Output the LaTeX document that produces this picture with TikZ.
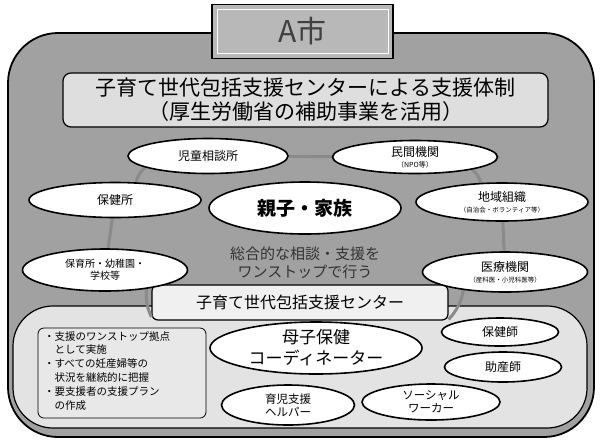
\documentclass[tikz,border=0pt]{standalone}
\usepackage{fontspec}
\setmainfont{Noto Sans CJK JP}
\usetikzlibrary{shapes.geometric}
\definecolor{framegray}{gray}{0.63}
\definecolor{headgray}{gray}{0.87}
\definecolor{lowgray}{gray}{0.89}
\definecolor{listgray}{gray}{0.91}
\definecolor{centergray}{gray}{0.94}
\definecolor{linkgray}{gray}{0.54}
\definecolor{titlegray}{gray}{0.72}
\pgfdeclarelayer{bg}
\pgfdeclarelayer{mid}
\pgfsetlayers{bg,mid,main}
\tikzset{
  oval/.style={ellipse, draw=black, line width=1.6pt, fill=white, inner sep=0pt, align=center, font=\fontsize{12}{13}\selectfont},
  panel/.style={draw=black, line width=1.2pt, inner sep=0pt},
  link/.style={draw=linkgray, line width=3pt},
  subtxt/.style={font=\fontsize{7}{8}\selectfont}
}
\begin{document}
\begin{tikzpicture}[x=1pt,y=-1pt]
\useasboundingbox (0,0) rectangle (604,440);
\begin{pgfonlayer}{bg}
  \node[panel, fill=framegray, rounded corners=50pt, line width=1.8pt, minimum width=586pt, minimum height=404pt] (frame) at (301,235) {};
  \node[panel, fill=headgray, rounded corners=8pt, minimum width=485pt, minimum height=54pt, align=center, font=\fontsize{21}{24}\selectfont] (head) at (305.5,100) {子育て世代包括支援センターによる支援体制\\（厚生労働省の補助事業を活用）};
  \node[panel, fill=lowgray, rounded corners=40pt, minimum width=574pt, minimum height=122pt] (lower) at (300,367) {};
  \node[panel, fill=centergray, rounded corners=6pt, minimum width=296pt, minimum height=35pt, font=\fontsize{16}{18}\selectfont] (center) at (300,302.5) {子育て世代包括支援センター};
\end{pgfonlayer}
% title box
\node[panel, fill=titlegray, line width=1.4pt, minimum width=181pt, minimum height=54pt] (title) at (302.5,31.5) {};
\node[draw=white, line width=1pt, minimum width=171pt, minimum height=44pt, inner sep=0pt] (titlein) at (302.5,31.5) {};
\node[font=\fontsize{30}{32}\selectfont, text=black!75] (titletxt) at (302.5,31.5) {A市};
% outer ring of ellipses
\node[oval, minimum width=160pt, minimum height=35pt] (jido) at (208,156) {児童相談所};
\node[oval, minimum width=165pt, minimum height=33pt] (minkan) at (415,157) {民間機関\\[-2pt]{\fontsize{7}{8}\selectfont（NPO等）}};
\node[oval, minimum width=172pt, minimum height=35pt] (hoken) at (115,200) {保健所};
\node[oval, minimum width=192pt, minimum height=52pt, font=\fontsize{19}{20}\selectfont\bfseries] (oyako) at (305,208) {親子・家族};
\node[oval, minimum width=172pt, minimum height=38pt] (chiiki) at (502,202) {地域組織\\[-2pt]{\fontsize{6.5}{7}\selectfont（自治会・ボランティア等）}};
\node[oval, minimum width=165pt, minimum height=42pt, font=\fontsize{10}{12}\selectfont] (hoiku) at (105,270) {保育所・幼稚園・\\学校等};
\node[oval, minimum width=165pt, minimum height=40pt] (iryo) at (505,272) {医療機関\\[-2pt]{\fontsize{6.5}{7}\selectfont（産科医・小児科医等）}};
\node[align=center, font=\fontsize{15}{18}\selectfont, text=black!80] (sogo) at (305,263) {総合的な相談・支援を\\ワンストップで行う};
% lower panel contents
\node[panel, fill=listgray, line width=0.8pt, rounded corners=6pt, minimum width=168pt, minimum height=90pt] (list) at (122,373) {};
\node[anchor=north west, align=left, font=\fontsize{10.5}{13.8}\selectfont, inner sep=0pt] (listtxt) at (44,331) {・支援のワンストップ拠点\\　として実施\\・すべての妊産婦等の\\　状況を継続的に把握\\・要支援者の支援プラン\\　の作成};
\node[oval, minimum width=212pt, minimum height=52pt, font=\fontsize{17}{21}\selectfont] (boshi) at (316,348) {母子保健\\コーディネーター};
\node[oval, minimum width=117pt, minimum height=28pt] (hokenshi) at (500,332) {保健師};
\node[oval, minimum width=117pt, minimum height=30pt] (josan) at (503,367) {助産師};
\node[oval, minimum width=133pt, minimum height=40pt, font=\fontsize{11.5}{13}\selectfont] (ikuji) at (288,405) {育児支援\\ヘルパー};
\node[oval, minimum width=138pt, minimum height=36pt, font=\fontsize{11.5}{13}\selectfont] (social) at (431,402) {ソーシャル\\ワーカー};
% ring links
\begin{pgfonlayer}{mid}
  \draw[link] (hoken) to[bend left=15] (jido);
  \draw[link] (jido) -- (minkan);
  \draw[link] (minkan) to[bend left=15] (chiiki);
  \draw[link] (chiiki) -- (iryo);
  \draw[link] (iryo) to[bend left=15] (center);
  \draw[link] (center) to[bend left=15] (hoiku);
  \draw[link] (hoiku) -- (hoken);
\end{pgfonlayer}
\end{tikzpicture}
\end{document}
